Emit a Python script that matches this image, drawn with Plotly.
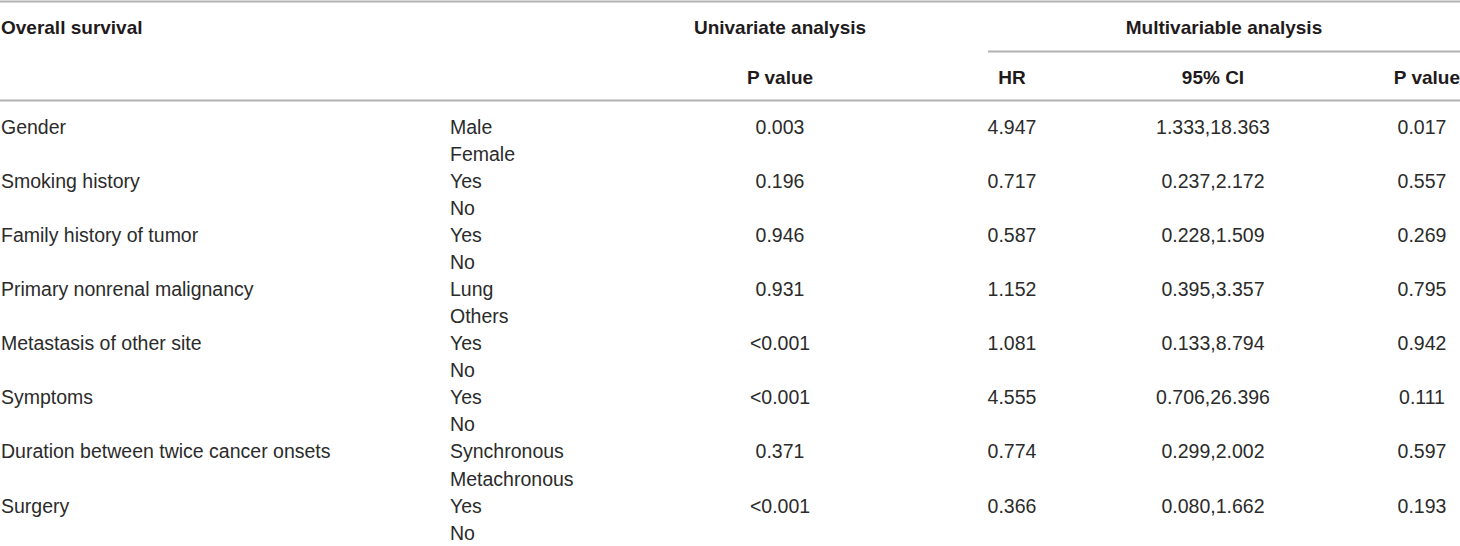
import plotly.graph_objects as go

# ---------------------------------------------------------------
# Table data
# ---------------------------------------------------------------
variables = [
    "Gender",
    "Smoking history",
    "Family history of tumor",
    "Primary nonrenal malignancy",
    "Metastasis of other site",
    "Symptoms",
    "Duration between twice cancer onsets",
    "Surgery",
]
levels = [
    ["Male", "Female"],
    ["Yes", "No"],
    ["Yes", "No"],
    ["Lung", "Others"],
    ["Yes", "No"],
    ["Yes", "No"],
    ["Synchronous", "Metachronous"],
    ["Yes", "No"],
]
uni_p = ["0.003", "0.196", "0.946", "0.931", "<0.001", "<0.001", "0.371", "<0.001"]
hr = ["4.947", "0.717", "0.587", "1.152", "1.081", "4.555", "0.774", "0.366"]
ci = [
    "1.333,18.363", "0.237,2.172", "0.228,1.509", "0.395,3.357",
    "0.133,8.794", "0.706,26.396", "0.299,2.002", "0.080,1.662",
]
multi_p = ["0.017", "0.557", "0.269", "0.795", "0.942", "0.111", "0.597", "0.193"]

header_top = ["Overall survival", "Univariate analysis", "Multivariable analysis"]
header_sub = ["P value", "HR", "95% CI", "P value"]

# ---------------------------------------------------------------
# Layout constants (pixel-like axis units)
# ---------------------------------------------------------------
W, H = 1460, 546
X_VAR, X_LEVEL = 1, 450
X_UNI, X_HR, X_CI, X_MP = 780, 1012, 1213, 1422
X_MULTI_L, X_MULTI_C = 988, 1224
Y_TOP, Y_SUB = 29, 79
ROW0, STEP = 129, 27.05

HEAD = "#1f1b1c"
TEXT = "#2b2b2b"
RULE = "#b2b2b2"
FONT = "Liberation Sans, Arial, sans-serif"
SIZE = 19.5

row_y = [ROW0 + 2 * i * STEP for i in range(len(variables))]
level_y = [ROW0 + k * STEP for k in range(2 * len(variables))]
level_txt = [lv for pair in levels for lv in pair]

fig = go.Figure()


def text_trace(x, y, text, pos, bold=False):
    fig.add_trace(
        go.Scatter(
            x=x,
            y=y,
            text=text,
            mode="text",
            textposition=pos,
            textfont=dict(family=FONT, size=SIZE if not bold else 19,
                          color=HEAD if bold else TEXT,
                          weight="bold" if bold else "normal"),
            hoverinfo="skip",
            showlegend=False,
            cliponaxis=False,
        )
    )


# Headers
text_trace([X_VAR], [Y_TOP], [header_top[0]], "middle right", bold=True)
text_trace([X_UNI, X_MULTI_C], [Y_TOP, Y_TOP], header_top[1:], "middle center", bold=True)
text_trace([X_UNI, X_HR, X_CI], [Y_SUB] * 3, header_sub[:3], "middle center", bold=True)
text_trace([W], [Y_SUB], [header_sub[3]], "middle left", bold=True)

# Body
text_trace([X_VAR] * len(variables), row_y, variables, "middle right")
text_trace([X_LEVEL] * len(level_txt), level_y, level_txt, "middle right")
text_trace([X_UNI] * len(uni_p), row_y, uni_p, "middle center")
text_trace([X_HR] * len(hr), row_y, hr, "middle center")
text_trace([X_CI] * len(ci), row_y, ci, "middle center")
text_trace([X_MP] * len(multi_p), row_y, multi_p, "middle center")

# Rules
for x0, y0 in [(0, 1.5), (0, 100.5), (X_MULTI_L, 51.5)]:
    fig.add_shape(type="line", x0=x0, x1=W, y0=y0, y1=y0,
                  xref="x", yref="y", line=dict(color=RULE, width=2.2))

fig.update_xaxes(range=[0, W], visible=False, fixedrange=True)
fig.update_yaxes(range=[H, 0], visible=False, fixedrange=True)
fig.update_layout(
    width=W,
    height=H,
    margin=dict(l=0, r=0, t=0, b=0),
    paper_bgcolor="white",
    plot_bgcolor="white",
    showlegend=False,
)

fig.write_html(
    "out.html",
    config={"displayModeBar": False},
    post_script="document.body.style.margin='0';document.body.style.overflow='hidden';",
)
